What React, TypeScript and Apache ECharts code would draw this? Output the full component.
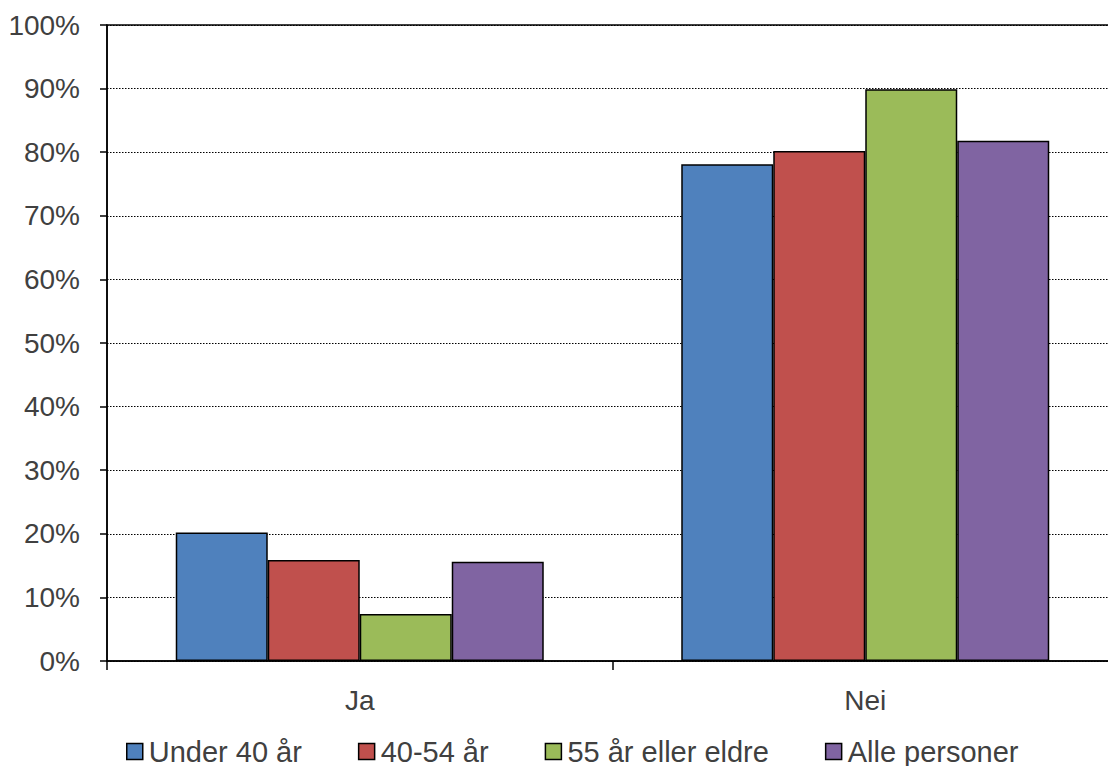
import React, { useEffect, useRef } from "react";
import * as echarts from "echarts";

const categories = ["Ja", "Nei"];
const seriesNames = ["Under 40 år", "40-54 år", "55 år eller eldre", "Alle personer"];
const under40 = [20.2, 78.1];
const age40to54 = [15.9, 80.2];
const age55plus = [7.4, 89.9];
const allPersons = [15.6, 81.8];
const colors = ["#4F81BD", "#C0504D", "#9BBB59", "#8064A2"];
const yTicksMax = 100;

export default function App() {
  const ref = useRef<HTMLDivElement>(null);
  useEffect(() => {
    document.body.style.margin = "0";
    document.body.style.overflow = "hidden";
    const chart = echarts.init(ref.current!, null, { renderer: "svg" });
    const values = [under40, age40to54, age55plus, allPersons];
    const font = "Liberation Sans, Arial, sans-serif";
    chart.setOption({
      animation: false,
      backgroundColor: "#ffffff",
      grid: {
        left: 107,
        top: 25,
        width: 1011,
        height: 636,
        show: true,
        borderColor: "#000",
        borderWidth: 1.5,
        containLabel: false,
      },
      legend: {
        top: 737,
        left: 126,
        padding: 0,
        itemWidth: 16,
        itemHeight: 16,
        itemGap: 56,
        icon: "rect",
        selectedMode: false,
        itemStyle: { borderColor: "#000", borderWidth: 1.5 },
        textStyle: { fontSize: 29, color: "#404040", fontFamily: font, padding: [0, 0, 0, 1] },
        data: seriesNames,
      },
      xAxis: {
        type: "category",
        data: categories,
        axisLine: { show: true, lineStyle: { color: "#000", width: 1.5 } },
        axisTick: { show: true, length: 9, lineStyle: { color: "#000", width: 1.5 } },
        axisLabel: { fontSize: 28, color: "#404040", fontFamily: font, margin: 25 },
      },
      yAxis: {
        type: "value",
        min: 0,
        max: yTicksMax,
        interval: 10,
        axisLine: { show: true, lineStyle: { color: "#000", width: 1.5 } },
        axisTick: { show: true, length: 7, lineStyle: { color: "#000", width: 1.5 } },
        axisLabel: { fontSize: 28, color: "#404040", fontFamily: font, margin: 27, formatter: "{value}%" },
        splitLine: { show: true, lineStyle: { color: "#000", type: [1.5, 1.5], width: 1.2 } },
      },
      series: seriesNames.map((name, i) => ({
        name,
        type: "bar",
        data: values[i],
        barGap: "0%",
        barCategoryGap: "27.2%",
        itemStyle: { color: colors[i], borderColor: "#000", borderWidth: 1.5 },
      })),
    });
    return () => chart.dispose();
  }, []);
  return (
    <div style={{ width: 1108, height: 766, overflow: "hidden" }}>
      <div ref={ref} style={{ width: 1140, height: 766 }} />
    </div>
  );
}
